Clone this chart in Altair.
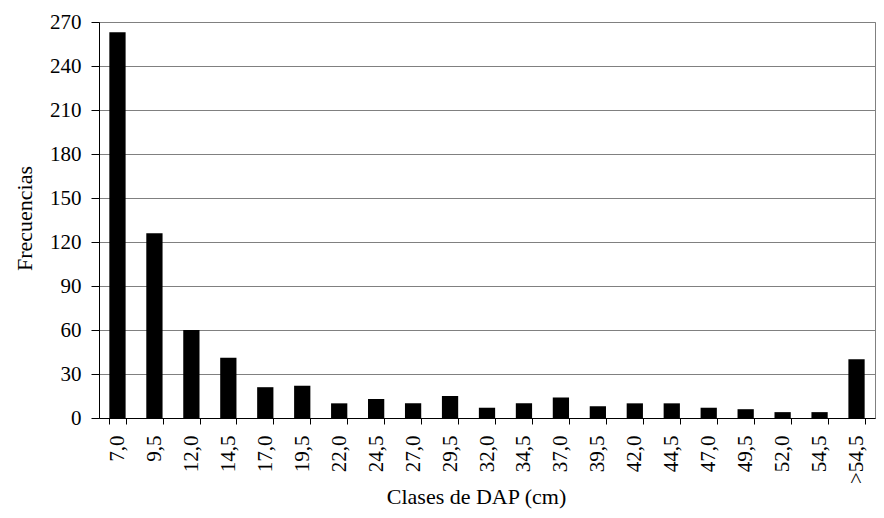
import altair as alt
import pandas as pd

categories = ["7,0", "9,5", "12,0", "14,5", "17,0", "19,5", "22,0", "24,5", "27,0",
              "29,5", "32,0", "34,5", "37,0", "39,5", "42,0", "44,5", "47,0", "49,5",
              "52,0", "54,5", ">54,5"]
frequencies = [263, 126, 60, 41, 21, 22, 10, 13, 10, 15, 7, 10, 14, 8, 10, 10, 7, 6, 4, 4, 40]
y_ticks = [0, 30, 60, 90, 120, 150, 180, 210, 240, 270]

df = pd.DataFrame({"clase": categories, "frecuencia": frequencies})

FONT = "Liberation Serif"

chart = alt.Chart(df).mark_bar(color="black").encode(
    x=alt.X(
        "clase:N",
        sort=categories,
        scale=alt.Scale(paddingInner=0.56, paddingOuter=0.28),
        axis=alt.Axis(
            title="Clases de DAP (cm)",
            labelAngle=-90,
            labelAlign="right",
            labelBaseline="middle",
            labelPadding=11,
            tickSize=6,
            tickBand="extent",
            grid=False,
            titleX=377,
            titleY=85,
            titleBaseline="alphabetic",
            titleAnchor="middle",
            titleAlign="center",
        ),
    ),
    y=alt.Y(
        "frecuencia:Q",
        scale=alt.Scale(domain=[0, 270], nice=False),
        axis=alt.Axis(
            title="Frecuencias",
            values=y_ticks,
            tickSize=8,
            labelPadding=10,
            grid=True,
            gridColor="#808080",
            titleX=-75,
            titleY=196,
            titleBaseline="middle",
            titleAngle=-90,
        ),
    ),
).properties(
    width=776,
    height=396,
    autosize=alt.AutoSizeParams(type="none"),
    padding={"left": 91, "top": 14, "right": 1, "bottom": 92},
).configure_view(
    stroke="#808080", strokeWidth=1
).configure_axis(
    labelFont=FONT,
    labelFontSize=21,
    labelColor="black",
    titleFont=FONT,
    titleFontSize=22,
    titleFontWeight="normal",
    titleColor="black",
    domainColor="black",
    tickColor="black",
    domainWidth=1,
    tickWidth=1,
)

chart.save("out.html", embed_options={"renderer": "svg", "actions": False})
